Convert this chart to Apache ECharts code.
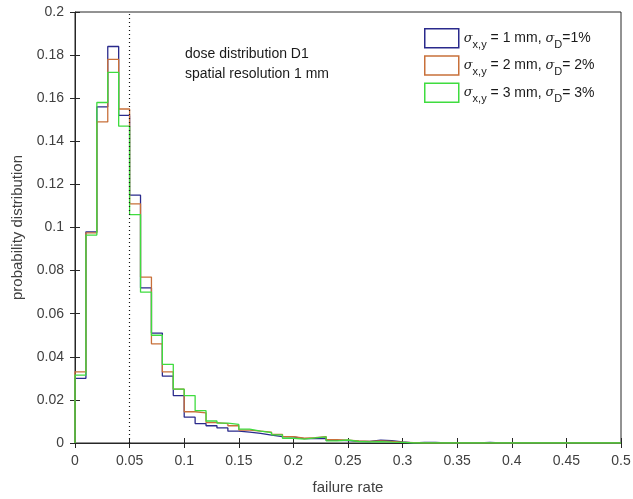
<!DOCTYPE html>
<html>
<head>
<meta charset="utf-8">
<script src="https://cdn.jsdelivr.net/npm/echarts@6/dist/echarts.min.js"></script>
<style>
  html, body { margin: 0; padding: 0; background: #fff; }
  #chart { width: 633px; height: 499px; }
</style>
</head>
<body>
<div id="chart"></div>
<script>
// histogram bins: 0 .. 0.5, width 0.01
var binWidth = 0.01;
var binCount = 50;

var sigma1 = [0.030, 0.098, 0.156, 0.184, 0.152, 0.115, 0.072, 0.051, 0.031, 0.022,
  0.012, 0.009, 0.008, 0.007, 0.0055, 0.005, 0.0045, 0.0037, 0.003, 0.0028,
  0.002, 0.002, 0.0022, 0.0012, 0.0011, 0.0008, 0.0007, 0.0013, 0.0011, 0.0005,
  0, 0.0003, 0.0003, 0, 0, 0, 0, 0.0003, 0, 0,
  0, 0, 0, 0, 0, 0, 0, 0, 0, 0];
var sigma2 = [0.033, 0.0975, 0.149, 0.178, 0.155, 0.111, 0.077, 0.046, 0.033, 0.025,
  0.0145, 0.014, 0.0095, 0.009, 0.008, 0.006, 0.0055, 0.005, 0.004, 0.003,
  0.0022, 0.0025, 0.003, 0.0015, 0.0013, 0.001, 0.0008, 0.001, 0.0008, 0.0004,
  0.0002, 0, 0, 0, 0, 0, 0, 0, 0, 0,
  0, 0, 0, 0, 0, 0, 0, 0, 0, 0];
var sigma3 = [0.0315, 0.0965, 0.158, 0.172, 0.147, 0.106, 0.070, 0.050, 0.0365, 0.025,
  0.022, 0.015, 0.0102, 0.0092, 0.0086, 0.0064, 0.0055, 0.0048, 0.0038, 0.0022,
  0.0018, 0.0024, 0.0028, 0.001, 0.0014, 0.0007, 0.0005, 0.0006, 0.0004, 0.0003,
  0, 0, 0, 0, 0, 0, 0, 0, 0, 0,
  0, 0, 0, 0, 0, 0, 0, 0, 0, 0];

var seriesNames = ['s1', 's2', 's3'];
var seriesLabels = [
  ['x,y', '1 mm', 'D', '=1%'],
  ['x,y', '2 mm', 'D', '= 2%'],
  ['x,y', '3 mm', 'D', '= 3%']
];
var seriesColors = ['#2a2a8c', '#c8703a', '#3fdc3f'];
var threshold = 0.05;

// stairs outline: start at 0, one point per left bin edge, close at right edge
function stairs(values) {
  var pts = [[0, 0]];
  for (var i = 0; i < binCount; i++) {
    pts.push([+(i * binWidth).toFixed(2), values[i]]);
  }
  pts.push([+(binCount * binWidth).toFixed(2), values[binCount - 1]]);
  pts.push([+(binCount * binWidth).toFixed(2), 0]);
  return pts;
}

var chart = echarts.init(document.getElementById('chart'));
var allValues = [sigma1, sigma2, sigma3];

var series = allValues.map(function (vals, k) {
  var s = {
    name: seriesNames[k],
    type: 'line',
    step: 'end',
    symbol: 'none',
    animation: false,
    lineStyle: { color: seriesColors[k], width: 1.3 },
    itemStyle: { color: seriesColors[k] },
    data: stairs(vals),
    z: 2 + k
  };
  if (k === 0) {
    s.markLine = {
      silent: true,
      symbol: 'none',
      label: { show: false },
      lineStyle: { color: '#111', type: [1, 3], width: 1.2 },
      data: [{ xAxis: threshold }]
    };
  }
  return s;
});

var labelFont = 'Liberation Sans, Arial, sans-serif';

var option = {
  backgroundColor: '#fff',
  animation: false,
  grid: {
    left: 75, right: 12, top: 12, bottom: 56, outerBoundsMode: 'none',
    show: true, borderColor: '#262626', borderWidth: 1, backgroundColor: '#fff'
  },
  xAxis: [{
    type: 'value', min: 0, max: 0.5, interval: 0.05,
    name: 'failure rate', nameLocation: 'middle', nameGap: 37,
    nameTextStyle: { fontSize: 15, color: '#404040', fontFamily: labelFont },
    axisLine: { lineStyle: { color: '#262626' } },
    axisTick: { inside: true, length: 5, lineStyle: { color: '#262626' } },
    axisLabel: { fontSize: 14, color: '#404040', margin: 11, fontFamily: labelFont },
    splitLine: { show: false }
  }, {
    type: 'value', min: 0, max: 0.5, interval: 0.05, position: 'top',
    axisLine: { show: false },
    axisTick: { inside: true, length: 5, lineStyle: { color: '#262626' } },
    axisLabel: { show: false },
    splitLine: { show: false }
  }],
  yAxis: [{
    type: 'value', min: 0, max: 0.2, interval: 0.02,
    name: 'probability distribution', nameLocation: 'middle', nameGap: 49,
    nameTextStyle: { fontSize: 15, color: '#404040', fontFamily: labelFont },
    axisLine: { show: true, lineStyle: { color: '#262626' } },
    axisTick: { show: true, inside: true, length: 5, lineStyle: { color: '#262626' } },
    axisLabel: { fontSize: 14, color: '#404040', margin: 11, fontFamily: labelFont },
    splitLine: { show: false }
  }, {
    type: 'value', min: 0, max: 0.2, interval: 0.02, position: 'right',
    axisLine: { show: false },
    axisTick: { show: true, inside: true, length: 5, lineStyle: { color: '#262626' } },
    axisLabel: { show: false },
    splitLine: { show: false }
  }],
  legend: {
    orient: 'vertical',
    left: 419, top: 23,
    itemWidth: 34, itemHeight: 19, itemGap: 5,
    data: seriesNames.map(function (n, k) {
      return {
        name: n, icon: 'rect',
        itemStyle: { color: '#fff', borderColor: seriesColors[k], borderWidth: 1.5 }
      };
    }),
    formatter: function (name) {
      var l = seriesLabels[seriesNames.indexOf(name)];
      return '{g|\u03c3}{sub|' + l[0] + '}{t| = ' + l[1] + ', }{g|\u03c3}{sub|' + l[2] + '}{t|' + l[3] + '}';
    },
    textStyle: {
      color: '#1a1a1a', fontFamily: labelFont, fontSize: 14,
      rich: {
        g: { fontStyle: 'italic', fontFamily: 'DejaVu Serif, serif', fontSize: 13, color: '#1a1a1a' },
        sub: { fontSize: 11, fontFamily: labelFont, color: '#1a1a1a', padding: [13, 0, 0, 0] },
        t: { fontSize: 14, fontFamily: labelFont, color: '#1a1a1a' }
      }
    }
  },
  graphic: [{
    type: 'text', left: 185, top: 47,
    style: { text: 'dose distribution D1', fontSize: 14, fontFamily: labelFont, fill: '#1a1a1a' }
  }, {
    type: 'text', left: 185, top: 67,
    style: { text: 'spatial resolution 1 mm', fontSize: 14, fontFamily: labelFont, fill: '#1a1a1a' }
  }],
  series: series
};

chart.setOption(option);
</script>
</body>
</html>
